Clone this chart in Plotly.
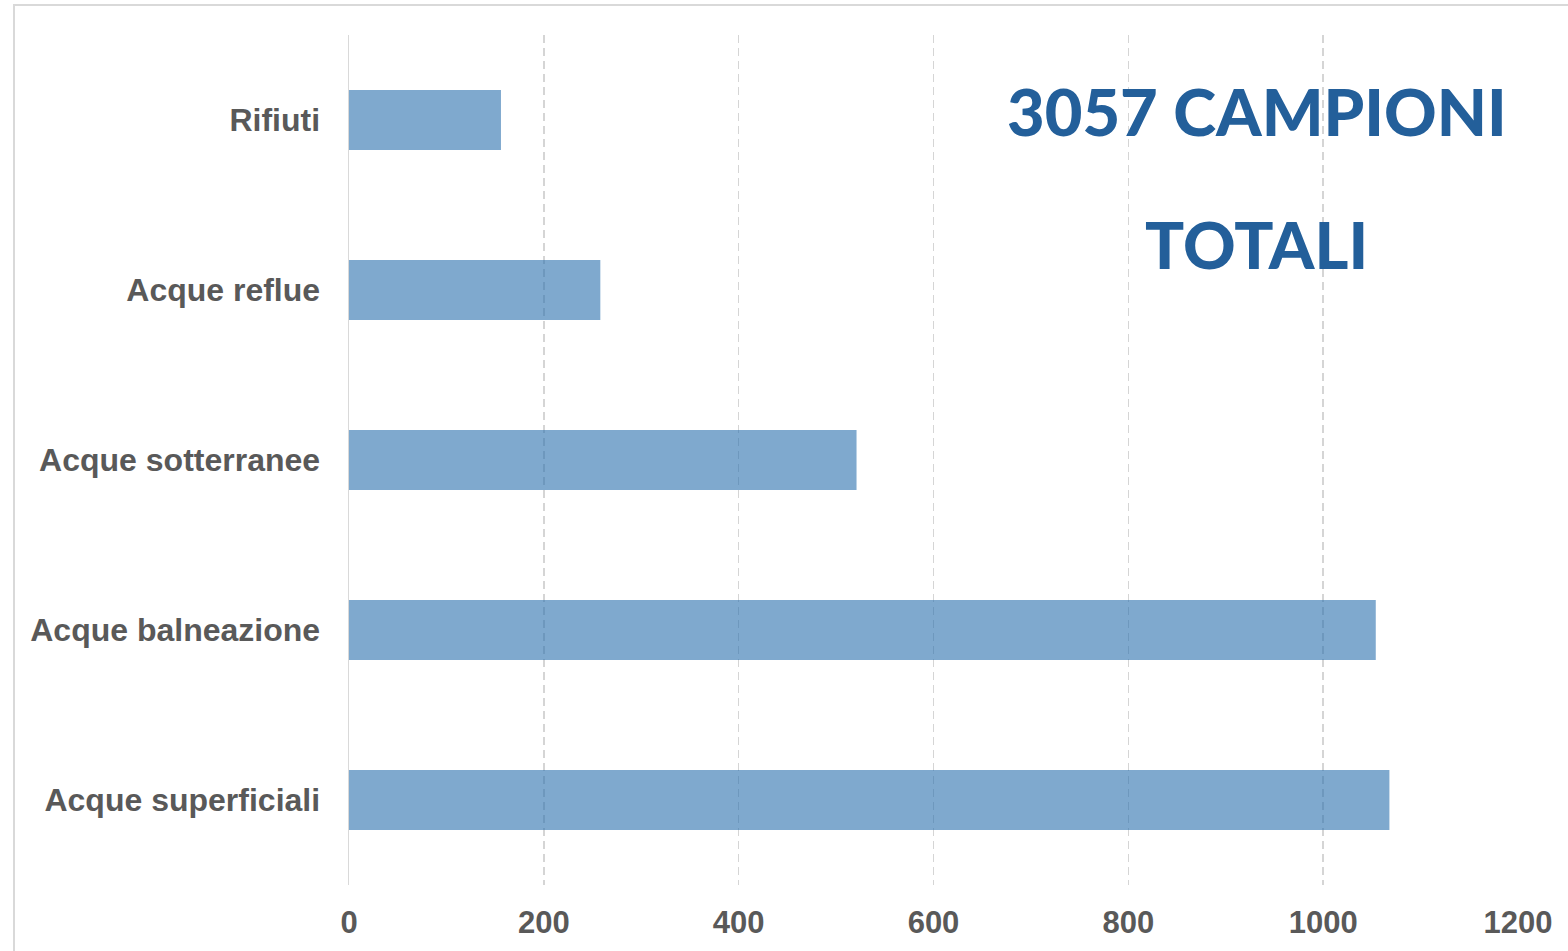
import plotly.graph_objects as go

categories = ["Acque superficiali", "Acque balneazione", "Acque sotterranee", "Acque reflue", "Rifiuti"]
values = [1068, 1054, 521, 258, 156]
tick_vals = [0, 200, 400, 600, 800, 1000, 1200]
tick_text = ["0", "200", "400", "600", "800", "1000", "1200"]

W, H = 1568, 951
# plot area in page pixels
PX0, PX1, PY0, PY1 = 349, 1518, 35, 885
L, R = PX0, W - PX1
T, B = PY0, H - PY1
pw, ph = PX1 - PX0, PY1 - PY0


def px(xp):
    return (xp - PX0) / pw


def py(yp):
    return (PY1 - yp) / ph


fig = go.Figure()
fig.add_trace(go.Bar(
    y=categories, x=values, orientation="h",
    marker=dict(color="rgba(42,112,173,0.6)", line=dict(width=0)),
    width=0.353,
))

fig.update_layout(
    width=W, height=H,
    margin=dict(l=L, r=R, t=T, b=B, autoexpand=False),
    paper_bgcolor="white", plot_bgcolor="white",
    showlegend=False,
    font=dict(family="Liberation Sans, Arial, sans-serif", color="#595959"),
    xaxis=dict(
        range=[0, 1200], tickvals=tick_vals, ticktext=tick_text,
        showgrid=True, gridcolor="#D5D5D5", griddash="8px,5px", gridwidth=1.5,
        zeroline=False, showline=False, ticks="",
        tickfont=dict(size=31, family="Liberation Sans, Arial", color="#595959", weight="bold"),
        ticklabelstandoff=16,
        fixedrange=True,
    ),
    yaxis=dict(
        categoryorder="array", categoryarray=categories,
        range=[-0.5, 4.5],
        showgrid=False, zeroline=False,
        showline=True, linecolor="#D9D9D9", linewidth=1.5,
        ticks="",
        tickfont=dict(size=32, family="Liberation Sans, Arial", color="#595959", weight="bold"),
        ticklabelstandoff=21,
        fixedrange=True,
    ),
    shapes=[dict(
        type="rect", xref="paper", yref="paper",
        x0=px(14), x1=px(W + 20),
        y0=py(H + 20), y1=py(5),
        line=dict(color="#D9D9D9", width=2), fillcolor="rgba(0,0,0,0)", layer="below",
    )],
    annotations=[
        dict(text="3057 CAMPIONI", x=932, xref="x", y=py(111), yref="paper",
             showarrow=False, xanchor="center", yanchor="middle",
             font=dict(family="Lato, Open Sans, sans-serif", size=65, color="#235F9A", weight=900)),
        dict(text="TOTALI", x=932, xref="x", y=py(244), yref="paper",
             showarrow=False, xanchor="center", yanchor="middle",
             font=dict(family="Lato, Open Sans, sans-serif", size=65, color="#235F9A", weight=900)),
    ],
)

fig.write_html(
    "out.html",
    config={"displayModeBar": False, "staticPlot": True},
    post_script="document.body.style.margin='0';document.body.style.overflow='hidden';",
)
